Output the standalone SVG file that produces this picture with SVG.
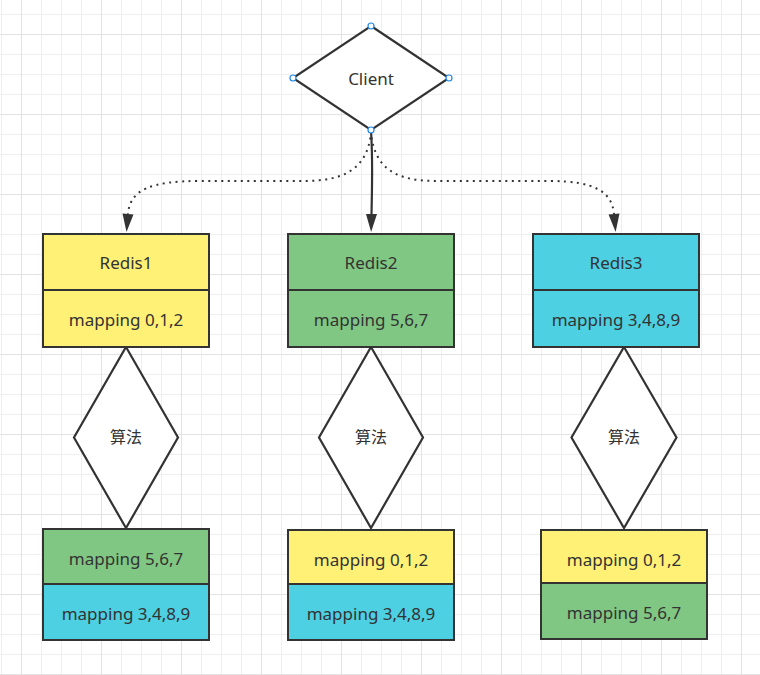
<svg xmlns="http://www.w3.org/2000/svg" width="760" height="675" viewBox="0 0 760 675">
<defs>
<pattern id="minor" width="20" height="20" patternUnits="userSpaceOnUse" x="1" y="14">
<path d="M0.5 0V20M0 0.5H20" stroke="#efefef" stroke-width="1" fill="none"/>
</pattern>
<pattern id="major" width="80" height="80" patternUnits="userSpaceOnUse" x="21" y="34">
<path d="M0.5 0V80M0 0.5H80" stroke="#e3e3e3" stroke-width="1" fill="none"/>
</pattern>
<marker id="arr" markerUnits="userSpaceOnUse" markerWidth="20" markerHeight="12" refX="0" refY="5.5" orient="auto" overflow="visible">
<path d="M0 0L18 5.5L0 11Z" fill="#333"/>
</marker>
<style>
.box{stroke:#333;stroke-width:2}
.y{fill:#fff176}
.g{fill:#81c784}
.c{fill:#4dd0e1}
.dia{fill:#fff;stroke:#333;stroke-width:2.2;stroke-linejoin:miter}
.div{stroke:#333;stroke-width:2}
.t{font-family:"Noto Sans","Liberation Sans",sans-serif;font-size:17px;fill:#333;text-anchor:middle}
.cjk{font-family:"Noto Sans CJK SC","Noto Sans",sans-serif;font-size:16px;fill:#333;text-anchor:middle}
.h{fill:#fff;stroke:#1e88e5;stroke-width:1.2}
.dot{fill:none;stroke:#333;stroke-width:2;stroke-dasharray:2 4.5}
.sol{fill:none;stroke:#333;stroke-width:2.2}
</style>
</defs>
<rect width="760" height="675" fill="#fff"/>
<rect width="760" height="675" fill="url(#minor)"/>
<rect width="760" height="675" fill="url(#major)"/>

<g id="connectors">
<path class="dot" d="M371 131C368 178 330 181 300 181L200 181C150 181 130 190 128 214" marker-end="url(#arr)"/>
<path class="sol" d="M371 131C373 160 372 190 371.5 214" marker-end="url(#arr)"/>
<path class="dot" d="M371 131C374 178 410 181 440 181L550 181C595 181 612 192 614 214" marker-end="url(#arr)"/>
</g>

<g id="client">
<polygon class="dia" points="371,26 449,78 371,130 293,78"/>
<text class="t" x="371" y="85">Client</text>
<circle class="h" cx="371" cy="26" r="3"/>
<circle class="h" cx="449" cy="78" r="3"/>
<circle class="h" cx="371" cy="130" r="3"/>
<circle class="h" cx="293" cy="78" r="3"/>
</g>

<g id="algo1">
<polygon class="dia" points="126,347 178,437.5 126,528 74,437.5"/>
<text class="cjk" x="126" y="443">算法</text>
</g>
<g id="algo2">
<polygon class="dia" points="371,347 423,437.5 371,528 319,437.5"/>
<text class="cjk" x="371" y="443">算法</text>
</g>
<g id="algo3">
<polygon class="dia" points="624,347 676.5,437.5 624,528 571.5,437.5"/>
<text class="cjk" x="624" y="443">算法</text>
</g>

<g id="redis1">
<rect class="y" x="43" y="234" width="166" height="113"/>
<rect class="box" x="43" y="234" width="166" height="113" fill="none"/>
<line class="div" x1="43" y1="290" x2="209" y2="290"/>
<text class="t" x="126" y="269">Redis1</text>
<text class="t" x="126" y="326">mapping 0,1,2</text>
</g>
<g id="redis2">
<rect class="g" x="288" y="234" width="166" height="113"/>
<rect class="box" x="288" y="234" width="166" height="113" fill="none"/>
<line class="div" x1="288" y1="290" x2="454" y2="290"/>
<text class="t" x="371" y="269">Redis2</text>
<text class="t" x="371" y="326">mapping 5,6,7</text>
</g>
<g id="redis3">
<rect class="c" x="533" y="234" width="166" height="113"/>
<rect class="box" x="533" y="234" width="166" height="113" fill="none"/>
<line class="div" x1="533" y1="290" x2="699" y2="290"/>
<text class="t" x="616" y="269">Redis3</text>
<text class="t" x="616" y="326">mapping 3,4,8,9</text>
</g>

<g id="result1">
<rect class="g" x="43" y="529" width="166" height="55"/>
<rect class="c" x="43" y="584" width="166" height="56"/>
<rect class="box" x="43" y="529" width="166" height="111" fill="none"/>
<line class="div" x1="43" y1="584" x2="209" y2="584"/>
<text class="t" x="126" y="565">mapping 5,6,7</text>
<text class="t" x="126" y="620">mapping 3,4,8,9</text>
</g>
<g id="result2">
<rect class="y" x="288" y="530" width="166" height="54"/>
<rect class="c" x="288" y="584" width="166" height="56"/>
<rect class="box" x="288" y="530" width="166" height="110" fill="none"/>
<line class="div" x1="288" y1="584" x2="454" y2="584"/>
<text class="t" x="371" y="565.5">mapping 0,1,2</text>
<text class="t" x="371" y="619.5">mapping 3,4,8,9</text>
</g>
<g id="result3">
<rect class="y" x="541" y="530" width="166" height="53"/>
<rect class="g" x="541" y="583" width="166" height="56"/>
<rect class="box" x="541" y="530" width="166" height="109" fill="none"/>
<line class="div" x1="541" y1="583" x2="707" y2="583"/>
<text class="t" x="624" y="565.5">mapping 0,1,2</text>
<text class="t" x="624" y="618.5">mapping 5,6,7</text>
</g>
</svg>
